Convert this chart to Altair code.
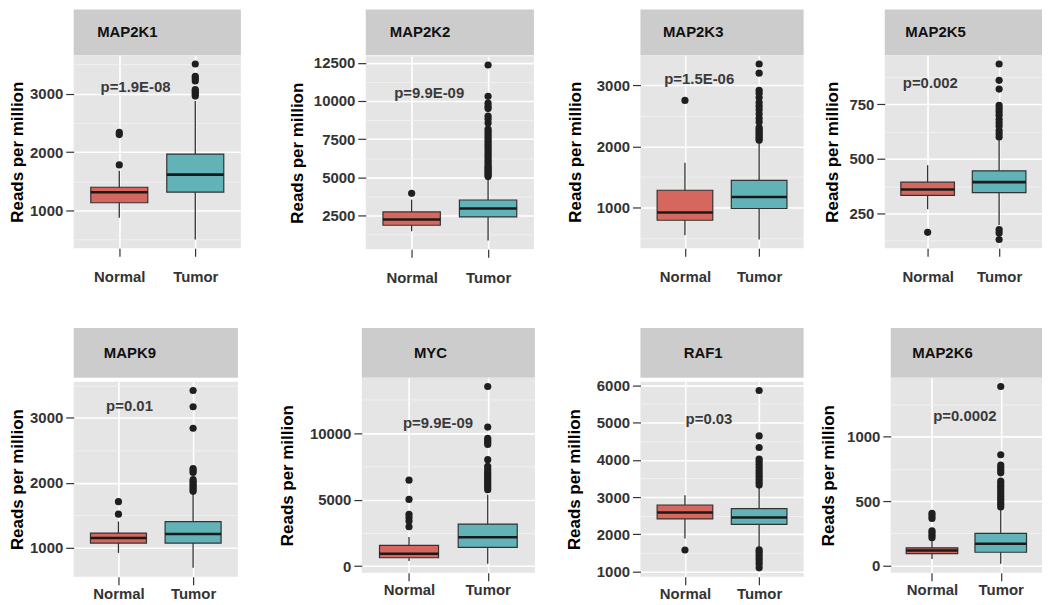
import math
import altair as alt
import pandas as pd

# ---------------- data ----------------
GENES = ["MAP2K1", "MAP2K2", "MAP2K3", "MAP2K5", "MAPK9", "MYC", "RAF1", "MAP2K6"]
PVALS = ["p=1.9E-08", "p=9.9E-09", "p=1.5E-06", "p=0.002",
         "p=0.01", "p=9.9E-09", "p=0.03", "p=0.0002"]
GROUPS = ["Normal", "Tumor"]

NORMAL_LOW = [876, 1476, 547, 269, 924, 380, 1890, 50]
NORMAL_Q1 = [1131, 1867, 792, 332, 1076, 631, 2413, 92]
NORMAL_MED = [1312, 2239, 918, 359, 1153, 935, 2584, 116]
NORMAL_Q3 = [1397, 2735, 1283, 393, 1229, 1565, 2787, 137]
NORMAL_HIGH = [1680, 3544, 1735, 471, 1406, 2200, 3045, 190]
NORMAL_OUT = [
    [1780, 2300, 2340],
    [3955],
    [2753],
    [163],
    [1519, 1712],
    [2960, 3390, 3650, 3900, 5015, 6460],
    [1579],
    [216, 235, 255, 270, 365, 385, 405],
]

TUMOR_LOW = [501, 869, 477, 197, 695, 175, 1640, 13]
TUMOR_Q1 = [1312, 2409, 984, 345, 1076, 1413, 2264, 103]
TUMOR_MED = [1613, 2957, 1173, 393, 1214, 2173, 2451, 169]
TUMOR_Q3 = [1966, 3518, 1446, 445, 1406, 3161, 2691, 250]
TUMOR_HIGH = [2874, 4950, 2046, 591, 1840, 5365, 3267, 445]
TUMOR_OUT = [
    [2960, 2990, 3020, 3050, 3070, 3220, 3260, 3300, 3510],
    [5050, 5150, 5250, 5350, 5450, 5550, 5650, 5750, 5900, 6050, 6200, 6350,
     6500, 6650, 6800, 6950, 7100, 7250, 7400, 7550, 7700, 7850, 8000, 8150,
     8550, 8800, 9000, 9500, 9650, 9850, 10300, 12350],
    [2100, 2130, 2160, 2190, 2220, 2250, 2280, 2310, 2400, 2460, 2530, 2600,
     2660, 2720, 2800, 2870, 2920, 3200, 3350],
    [130, 160, 175, 600, 615, 630, 650, 665, 680, 700, 715, 730, 745, 820, 860, 935],
    [1870, 1900, 1930, 1960, 1990, 2020, 2050, 2160, 2190, 2220, 2840, 3170, 3420],
    [5750, 5900, 6050, 6200, 6350, 6500, 6650, 6800, 6950, 7100, 7300, 7500,
     8000, 9150, 9300, 9450, 9600, 10450, 13500],
    [1100, 1200, 1280, 1360, 1440, 1520, 1580,
     3320, 3400, 3480, 3560, 3640, 3720, 3800, 3880, 3960, 4020, 4330, 4640, 5860],
    [455, 475, 495, 515, 535, 555, 575, 595, 615, 635, 655, 720, 740, 760, 780, 860, 1390],
]

Y_MAJOR_STEP = [1000, 2500, 1000, 250, 1000, 5000, 1000, 500]

# ---------------- styling / layout ----------------
FONT = "Liberation Sans"
FILL_COLORS = ["#D5675F", "#61B3B7"]
PANEL_BG = "#E5E5E5"
STRIP_BG = "#CCCCCC"

WIDTHS = [168, 169, 164, 158, 165, 174, 164, 152]
PLOT_H = [194, 196]
HEAD_H = [46, 50]
LABEL_PAD_X = [13, 2]
TITLE_SIZE = 17
TICK_LABEL_SIZE = 15
TITLE_DIST = [56, 68, 64.5, 52, 55, 74, 65.5, 62]
LABEL_DIGITS = [4, 5, 4, 3, 4, 5, 4, 4]
HEAD_DX = [-30, -30, -29, -28, -26, -18, -19, -24]
P_XFRAC = [0.37, 0.377, 0.36, 0.29, 0.34, 0.44, 0.42, 0.49]
P_Y = [32, 37, 24, 28, 25, 46, 38, 39]
ROW_SPACING = [[47.5, 33, 19.5], [40.5, 31, 15.5]]


def panel(i):
    row = 0 if i < 4 else 1
    W, H, HH = WIDTHS[i], PLOT_H[row], HEAD_H[row]

    stats = pd.DataFrame({
        "group": GROUPS,
        "pos": [1, 2],
        "lo": [NORMAL_LOW[i], TUMOR_LOW[i]],
        "q1": [NORMAL_Q1[i], TUMOR_Q1[i]],
        "med": [NORMAL_MED[i], TUMOR_MED[i]],
        "q3": [NORMAL_Q3[i], TUMOR_Q3[i]],
        "hi": [NORMAL_HIGH[i], TUMOR_HIGH[i]],
    })
    outs = pd.DataFrame(
        [{"group": "Normal", "pos": 1, "value": v} for v in NORMAL_OUT[i]]
        + [{"group": "Tumor", "pos": 2, "value": v} for v in TUMOR_OUT[i]]
    )
    allv = list(stats["lo"]) + list(stats["hi"]) + list(outs["value"])
    vmin, vmax = min(allv), max(allv)
    pad = 0.05 * (vmax - vmin)
    dom = [vmin - pad, vmax + pad]

    step = Y_MAJOR_STEP[i]
    half = step // 2
    vals = [k * half for k in range(math.ceil(dom[0] / half), math.floor(dom[1] / half) + 1)]
    major = f"datum.value % {step} === 0"

    E = 8 + 3 + LABEL_DIGITS[i] * 0.556 * TICK_LABEL_SIZE + 1
    tpad = max(TITLE_DIST[i] - E - TITLE_SIZE / 2, 2)

    yaxis = alt.Axis(
        values=vals,
        title="Reads per million",
        titleFontSize=TITLE_SIZE, titleFontWeight="bold", titleColor="#000000",
        titlePadding=tpad,
        minExtent=E, maxExtent=E,
        labelExpr=f"{major} ? '' + datum.value : ''",
        labelFontSize=TICK_LABEL_SIZE, labelFontWeight="bold", labelColor="#333333",
        labelPadding=3, labelOverlap=False,
        tickSize=8, tickColor="#333333", tickWidth=1.2,
        tickOpacity={"condition": {"test": major, "value": 1}, "value": 0},
        gridColor={"condition": {"test": major, "value": "#FFFFFF"}, "value": "#F2F2F2"},
        gridWidth={"condition": {"test": major, "value": 1.6}, "value": 0.9},
        gridOpacity=1,
        domain=False,
    )
    xaxis = alt.Axis(
        values=[1, 2], title=None,
        labelExpr="datum.value == 1 ? 'Normal' : 'Tumor'",
        labelFontSize=15, labelFontWeight="bold", labelColor="#333333",
        labelPadding=LABEL_PAD_X[row],
        tickSize=8, tickColor="#333333", tickWidth=1.2,
        gridColor="#FFFFFF", gridWidth=1.6, gridOpacity=1,
        domain=False,
    )
    xs = alt.Scale(domain=[0.4, 2.6], nice=False, zero=False)
    ys = alt.Scale(domain=dom, nice=False, zero=False)
    color = alt.Color("group:N", scale=alt.Scale(domain=GROUPS, range=FILL_COLORS), legend=None)

    base = alt.Chart(stats).transform_calculate(
        left="datum.pos - 0.375", right="datum.pos + 0.375"
    )
    whisk = base.mark_rule(color="#333333", strokeWidth=1.3).encode(
        x=alt.X("pos:Q", scale=xs, axis=xaxis),
        y=alt.Y("lo:Q", scale=ys, axis=yaxis),
        y2="hi:Q",
    )
    box = base.mark_rect(stroke="#333333", strokeWidth=1.2).encode(
        x=alt.X("left:Q", scale=xs, axis=xaxis),
        x2="right:Q",
        y=alt.Y("q1:Q", scale=ys, axis=yaxis),
        y2="q3:Q",
        fill=color,
    )
    med = base.mark_rule(color="#1A1A1A", strokeWidth=2.6).encode(
        x=alt.X("left:Q", scale=xs, axis=xaxis),
        x2="right:Q",
        y=alt.Y("med:Q", scale=ys, axis=yaxis),
    )
    pts = alt.Chart(outs).mark_circle(size=52, color="#1F1F1F", opacity=1).encode(
        x=alt.X("pos:Q", scale=xs, axis=xaxis),
        y=alt.Y("value:Q", scale=ys, axis=yaxis),
    )
    ptxt = alt.Chart(pd.DataFrame({"p": [PVALS[i]]})).mark_text(
        fontSize=15, fontWeight="bold", color="#3A3A3A", align="center", baseline="middle"
    ).encode(
        text="p:N",
        x=alt.value(P_XFRAC[i] * W),
        y=alt.value(P_Y[i]),
    )
    plot = alt.layer(whisk, box, med, pts, ptxt).properties(width=W, height=H)

    header = alt.Chart(pd.DataFrame({"gene": [GENES[i]]})).mark_text(
        fontSize=15, fontWeight="bold", color="#111111", align="center", baseline="middle"
    ).encode(
        text="gene:N",
        x=alt.value(W / 2 + HEAD_DX[i]),
        y=alt.value(HH / 2),
    ).properties(width=W, height=HH, view=alt.ViewBackground(fill=STRIP_BG, stroke=None))

    return alt.vconcat(header, plot, spacing=0)


panels = [panel(i) for i in range(8)]


def make_row(ps, sp):
    return alt.hconcat(
        ps[0],
        alt.hconcat(ps[1], alt.hconcat(ps[2], ps[3], spacing=sp[2]), spacing=sp[1]),
        spacing=sp[0],
    )


row1 = make_row(panels[:4], ROW_SPACING[0])
row2 = make_row(panels[4:], ROW_SPACING[1])

chart = (
    alt.vconcat(row1, row2, spacing=43)
    .properties(padding=0, background="#FFFFFF")
    .configure_view(fill=PANEL_BG, stroke=None)
    .configure_axis(labelFont=FONT, titleFont=FONT)
    .configure_text(font=FONT)
)

chart.save("out.html", embed_options={"renderer": "svg", "actions": False})
